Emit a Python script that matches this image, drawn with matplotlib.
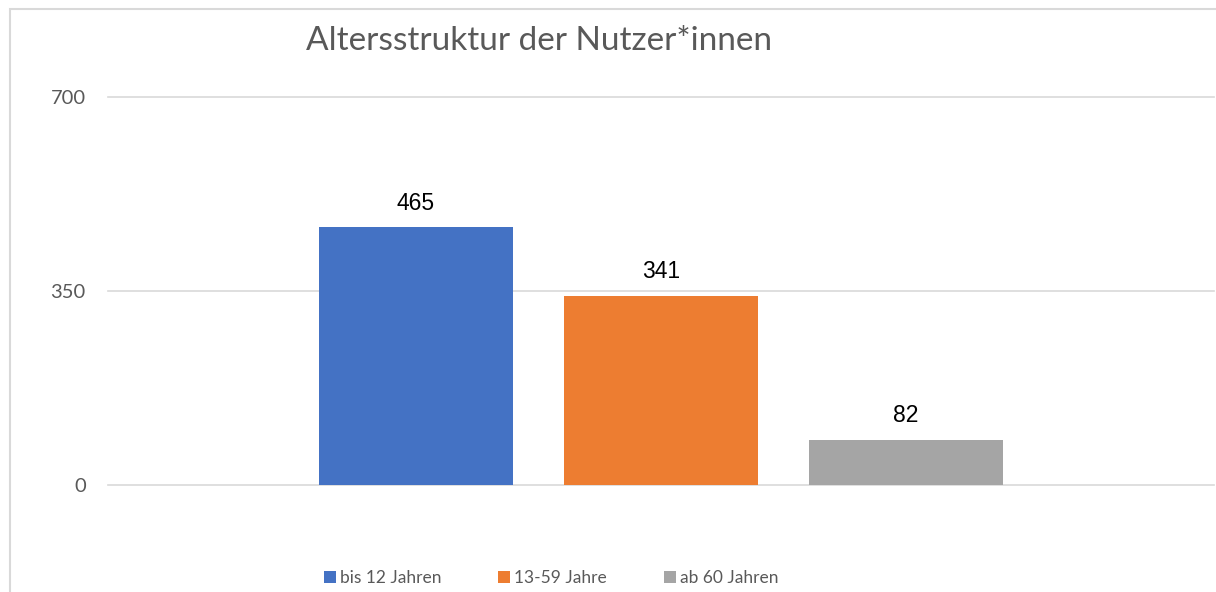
import matplotlib.pyplot as plt
from matplotlib.patches import Patch, Rectangle

# Altersstruktur der Nutzer*innen
groups = ['bis 12 Jahren', '13-59 Jahre', 'ab 60 Jahren']
counts = [465, 341, 82]
colors = ['#4472C4', '#ED7D31', '#A5A5A5']
yticks = [0, 350, 700]

fig = plt.figure(figsize=(12.16, 5.92), dpi=100)
ax = fig.add_axes([108/1216, 1 - 485/592, 1106/1216, 388/592])

# chart border like the office export
fig.patches.append(Rectangle((10/1216, -0.1), 1.2, 1 - 9/592 + 0.1,
                             transform=fig.transFigure, fill=False,
                             edgecolor='#D9D9D9', linewidth=1.5))

width = 0.1755
gap = 0.046
for i, (g, v, c) in enumerate(zip(groups, counts, colors)):
    b = ax.bar((i - 1) * (width + gap), v, width=width, color=c, zorder=3)
    ax.bar_label(b, labels=[str(v)], padding=9, fontsize=16.5,
                 family='Liberation Sans', color='black')

ax.set_xlim(-0.5, 0.5)
ax.set_ylim(0, 700)
ax.set_yticks(yticks)
ax.set_yticklabels([str(t) for t in yticks], family='Lato', fontsize=14.5, color='#595959')
ax.set_xticks([])
ax.tick_params(axis='y', length=0, pad=16)
for s in ax.spines.values():
    s.set_visible(False)
for t in yticks:
    ax.axhline(t, color='#D9D9D9', linewidth=1.2, zorder=1, clip_on=False)

fig.text(539/1216, 1 - 41/592, 'Altersstruktur der Nutzer*innen', ha='center', va='center',
         family='Lato', fontsize=24, color='#595959')

handles = [Patch(facecolor=c) for c in colors]
fig.legend(handles, groups, loc='center', bbox_to_anchor=(551/1216, 1 - 578/592), ncol=3,
           frameon=False, handlelength=0.7, handleheight=0.7, handletextpad=0.2,
           columnspacing=3.3, prop={'family': 'Lato', 'size': 12.5}, labelcolor='#595959')

fig.savefig('out.png', dpi=100)
